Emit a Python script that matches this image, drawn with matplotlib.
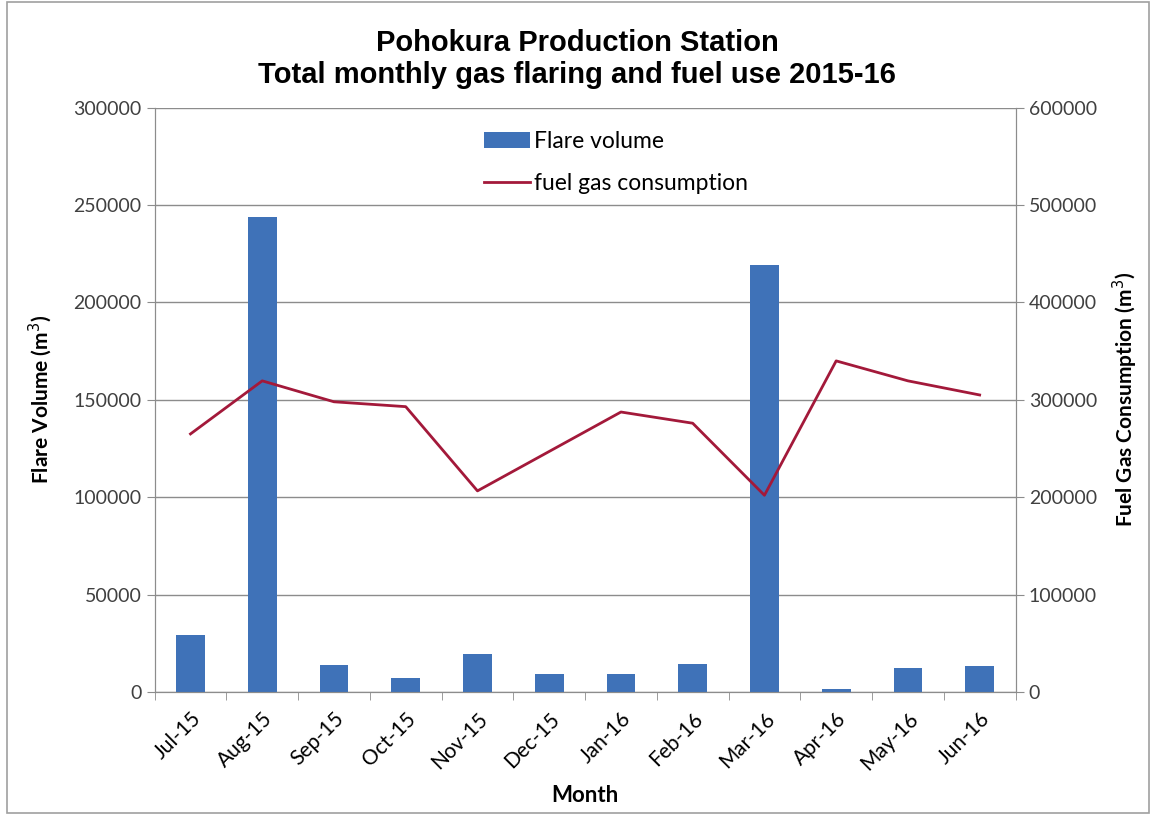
import matplotlib
matplotlib.use("Agg")
import matplotlib.pyplot as plt
from matplotlib.patches import Rectangle
import numpy as np

months = ["Jul-15", "Aug-15", "Sep-15", "Oct-15", "Nov-15", "Dec-15",
          "Jan-16", "Feb-16", "Mar-16", "Apr-16", "May-16", "Jun-16"]
flare = [29000, 244000, 14000, 7000, 19500, 9000,
         9000, 14500, 219000, 1500, 12300, 13400]
fuel = [265000, 319500, 298000, 293000, 206500, 247000,
        287500, 276000, 202000, 340000, 319500, 305000]

plt.rcParams['font.family'] = ['Lato', 'DejaVu Sans']

fig = plt.figure(figsize=(11.54, 8.16), dpi=100)
ax = fig.add_axes([0.134, 0.152, 0.746, 0.716])
ax2 = ax.twinx()

x = np.arange(len(months))
bars = ax.bar(x, flare, width=0.4, color="#3F72B8", label="Flare volume", zorder=3)
line, = ax2.plot(x, fuel, color="#A3193A", lw=2, label="fuel gas consumption")

gray = "#8C8C8C"
ax.set_xlim(-0.5, len(months) - 0.5)
ax.set_ylim(0, 300000)
ax2.set_ylim(0, 600000)
ax.set_yticks(np.arange(0, 300001, 50000))
ax2.set_yticks(np.arange(0, 600001, 100000))
ax.yaxis.grid(True, color=gray, lw=1, zorder=0)
ax.set_axisbelow(True)

ax.set_xticks(x)
ax.set_xticklabels(months, rotation=45, ha="right", rotation_mode="anchor")
ax.set_xticks(np.arange(-0.5, len(months)), minor=True)
ax.tick_params(axis="x", which="major", length=0, labelsize=15, pad=12)
ax.tick_params(axis="x", which="minor", length=6, color=gray)
ax.tick_params(axis="y", labelsize=14, colors="#404040", length=6)
ax.tick_params(axis="y", color=gray)
ax2.tick_params(axis="y", labelsize=14, labelcolor="#404040", color=gray, length=6)

for a in (ax, ax2):
    a.spines["top"].set_visible(False)
    for s in ("left", "right", "bottom"):
        a.spines[s].set_color(gray)

ax.set_xlabel("Month", fontsize=16, fontweight="bold", labelpad=8)
ax.set_ylabel("Flare Volume (m$^3$)", fontsize=15, fontweight="bold", labelpad=14)
ax2.set_ylabel("Fuel Gas Consumption (m$^3$)", fontsize=15, fontweight="bold", labelpad=10)

fig.suptitle("Pohokura Production Station\nTotal monthly gas flaring and fuel use 2015-16",
             fontsize=21, fontweight="bold", family="Liberation Sans", y=0.965)

leg = ax.legend([bars, line], ["Flare volume", "fuel gas consumption"],
                loc="upper center", bbox_to_anchor=(0.536, 0.995), frameon=False,
                fontsize=16.5, handlelength=2.0, handletextpad=0.2, labelspacing=0.9)

fig.patches.append(Rectangle((0.006, 0.004), 0.99, 0.994, transform=fig.transFigure,
                             fill=False, edgecolor="#A0A0A0", lw=1.2))

plt.savefig("out.png", dpi=100)
